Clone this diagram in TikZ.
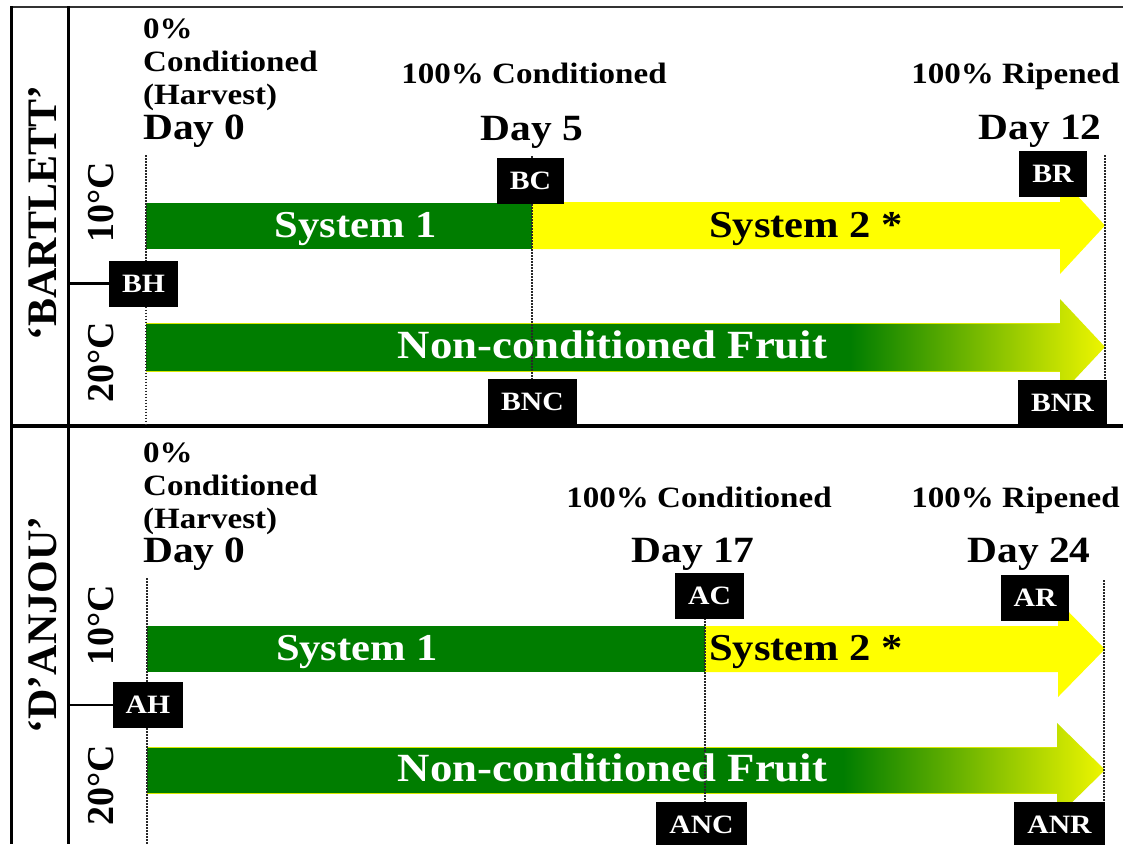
\documentclass[tikz,border=0pt]{standalone}
\usepackage{fontspec}
\setmainfont{Liberation Serif}[FakeStretch=1.12]
\newfontfamily\tnr{Liberation Serif}
\definecolor{bargreen}{RGB}{0,125,0}
\definecolor{baryellow}{RGB}{255,255,0}
\definecolor{tipyellow}{RGB}{238,246,0}
\definecolor{rimyellow}{RGB}{215,232,0}
\definecolor{dotgray}{RGB}{40,40,40}
\tikzset{
  small/.style={font=\bfseries\fontsize{29.5}{33}\selectfont, inner sep=0pt},
  daylab/.style={font=\bfseries\fontsize{37}{40}\selectfont, inner sep=0pt},
  bartext/.style={font=\bfseries\fontsize{38}{40}\selectfont, inner sep=0pt},
  tagbox/.style={fill=black, text=white, font=\bfseries\fontsize{26.5}{28}\selectfont,
    minimum height=46pt, inner xsep=13pt, inner ysep=0pt, text height=17.5pt, text depth=0pt},
  vlab/.style={rotate=90, font=\tnr\bfseries\fontsize{42}{44}\selectfont, inner sep=0pt, anchor=base},
  tlab/.style={rotate=90, font=\tnr\bfseries\fontsize{38}{40}\selectfont, inner sep=0pt, anchor=base},
  frameline/.style={line width=3pt, black},
  stub/.style={line width=2.5pt, black},
  dotline/.style={dotgray, line width=1.6pt, dash pattern=on 1.6pt off 1.4pt},
  rim/.style={rimyellow, line width=1pt}
}
\begin{document}
\begin{tikzpicture}[x=1pt, y=-1pt]
\useasboundingbox (0,0) rectangle (1123,844);
\clip (0,0) rectangle (1123,844);
\fill[white] (0,0) rectangle (1123,844);

% frame
\draw[line width=2pt, black!80] (10,7) -- (1123,7);
\draw[frameline] (11,6) -- (11,844);
\draw[frameline] (68,6) -- (68,844);
\draw[line width=3.5pt, black] (10,426) -- (1123,426);

% ---------------- BARTLETT panel ----------------
\fill[bargreen] (146,203) rectangle (532,249);
\fill[baryellow] (532,202) -- (1060,202) -- (1060,177) -- (1105,225.5) -- (1060,274) -- (1060,249) -- (532,249) -- cycle;
\fill[bargreen] (146,323) rectangle (851,371);
\shade[left color=bargreen, right color=tipyellow] (850,323) -- (1060,323) -- (1060,299) -- (1105,347) -- (1060,395) -- (1060,371) -- (850,371) -- cycle;
\draw[rim] (146,323) -- (1060,323);
\draw[rim] (146,371) -- (1060,371);

% ---------------- D'ANJOU panel ----------------
\fill[bargreen] (147,626) rectangle (705,672);
\fill[baryellow] (705,626) -- (1058,626) -- (1058,601) -- (1105,649) -- (1058,697) -- (1058,672) -- (705,672) -- cycle;
\fill[bargreen] (147,747) rectangle (844,793);
\shade[left color=bargreen, right color=tipyellow] (843,747) -- (1057,747) -- (1057,723) -- (1105,770) -- (1057,817) -- (1057,793) -- (843,793) -- cycle;
\draw[rim] (147,747) -- (1057,747);
\draw[rim] (147,793) -- (1057,793);

% tag boxes
\node[tagbox] (BH) at (143.5,283.5) {BH};
\node[tagbox] (BC) at (530.5,180.5) {BC};
\node[tagbox] (BR) at (1053,174) {BR};
\node[tagbox] (BNC) at (532.5,402) {BNC};
\node[tagbox] (BNR) at (1062.5,402.5) {BNR};
\node[tagbox] (AH) at (148,705) {AH};
\node[tagbox] (AC) at (709.5,596) {AC};
\node[tagbox] (AR) at (1035,598) {AR};
\node[tagbox] (ANC) at (701.5,825) {ANC};
\node[tagbox] (ANR) at (1059.5,825) {ANR};

% dotted time markers
\coordinate (bd0t) at (146,155);
\coordinate (bd0b) at (146,424);
\coordinate (bd5t) at (532,156);
\coordinate (bd12t) at (1105,155);
\coordinate (ad0t) at (147,578);
\coordinate (ad0b) at (147,844);
\coordinate (ad17t) at (705,573);
\coordinate (ad24t) at (1104,580);
\begin{scope}[on background layer/.style={}]
\end{scope}
\draw[dotline] (bd0t) -- (BH.north -| bd0t);
\draw[dotline] (BH.south -| bd0t) -- (bd0b);
\draw[dotline] (bd5t) -- (bd5t |- BNC.north);
\draw[dotline] (bd12t) -- (bd12t |- BNR.north);
\draw[dotline] (ad0t) -- (AH.north -| ad0t);
\draw[dotline] (AH.south -| ad0t) -- (ad0b);
\draw[dotline] (ad17t) -- (ad17t |- ANC.north);
\draw[dotline] (ad24t) -- (ad24t |- ANR.north);

% redraw boxes on top of dotted lines
\node[tagbox] at (BC) {BC};
\node[tagbox] at (BR) {BR};
\node[tagbox] at (AC) {AC};
\node[tagbox] at (AR) {AR};

% stubs from the cultivar column
\coordinate (bstub) at (68,283.5);
\coordinate (astub) at (68,705);
\draw[stub] (bstub) -- (BH.west);
\draw[stub] (astub) -- (AH.west);

% side labels
\node[vlab] (bart) at (56,213) {‘BARTLETT’};
\node[vlab] (anj) at (56,625) {‘D’ANJOU’};
\node[tlab] (bt10) at (113,202) {10°C};
\node[tlab] (bt20) at (113,362) {20°C};
\node[tlab] (at10) at (113,625) {10°C};
\node[tlab] (at20) at (113,785) {20°C};

% BARTLETT texts
\node[small, anchor=base west] (bp0) at (143,38) {0\%};
\node[small, anchor=base west] (bcn) at (143,71) {Conditioned};
\node[small, anchor=base west] (bhv) at (143,104) {(Harvest)};
\node[daylab, anchor=base west] (bday0) at (143,139) {Day 0};
\node[small, anchor=base] (bc100) at (534,83) {100\% Conditioned};
\node[daylab, anchor=base] (bday5) at (532,140) {Day 5};
\node[small, anchor=base] (br100) at (1015.5,83) {100\% Ripened};
\node[daylab, anchor=base] (bday12) at (1040,139) {Day 12};
\node[bartext, white, anchor=base] (bs1) at (355.5,237) {System 1};
\node[bartext, black, anchor=base] (bs2) at (806,237) {System 2 *};
\node[bartext, white, anchor=base, font=\bfseries\fontsize{40}{42}\selectfont] (bnc) at (612.5,358) {Non-conditioned Fruit};

% D'ANJOU texts
\node[small, anchor=base west] (ap0) at (143,462) {0\%};
\node[small, anchor=base west] (acn) at (143,495) {Conditioned};
\node[small, anchor=base west] (ahv) at (143,528) {(Harvest)};
\node[daylab, anchor=base west] (aday0) at (143,562) {Day 0};
\node[small, anchor=base] (ac100) at (699,507) {100\% Conditioned};
\node[daylab, anchor=base] (aday17) at (693,562) {Day 17};
\node[small, anchor=base] (ar100) at (1015.5,507) {100\% Ripened};
\node[daylab, anchor=base] (aday24) at (1029,562) {Day 24};
\node[bartext, white, anchor=base] (as1) at (357,660) {System 1};
\node[bartext, black, anchor=base] (as2) at (806,660) {System 2 *};
\node[bartext, white, anchor=base, font=\bfseries\fontsize{40}{42}\selectfont] (anc) at (612.5,781) {Non-conditioned Fruit};
\end{tikzpicture}
\end{document}
